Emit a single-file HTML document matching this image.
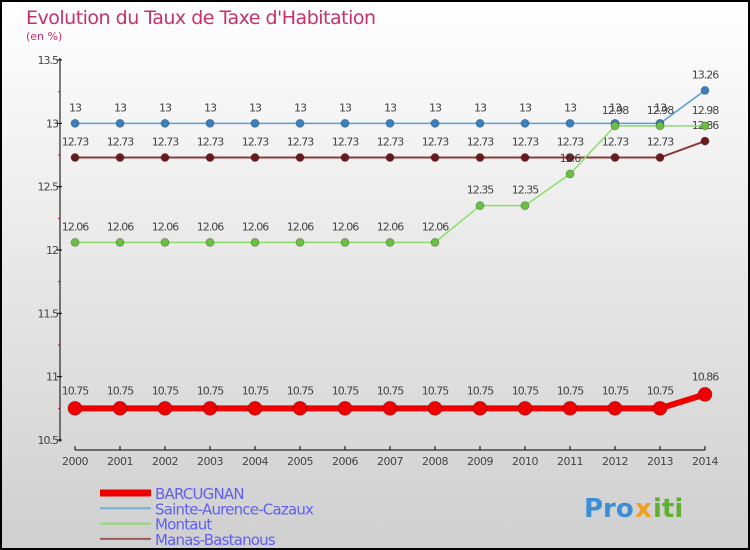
<!DOCTYPE html>
<html><head><meta charset="utf-8"><style>
body{margin:0;}
#c{width:750px;height:550px;position:relative;overflow:hidden;}
svg{display:block;font-family:"DejaVu Sans","Liberation Sans",sans-serif;}
</style></head><body>
<div id="c">
<svg id="s" width="750" height="550" xmlns="http://www.w3.org/2000/svg">
<defs><linearGradient id="bg" x1="0" y1="0" x2="0" y2="1"><stop offset="0" stop-color="#ffffff"/><stop offset="1" stop-color="#cfcfcf"/></linearGradient></defs>
<rect x="1" y="1" width="748" height="548" fill="url(#bg)" stroke="#000" stroke-width="2"/>
<text x="26" y="24" font-size="19" fill="#c8306a" style="letter-spacing:-0.5px">Evolution du Taux de Taxe d'Habitation</text>
<text x="26" y="40" font-size="11" fill="#c8306a">(en %)</text>
<g id="axes"></g><g id="series"></g><g id="legend"></g>
<g font-size="26" font-weight="bold">
<text x="584" y="517" fill="#3a8fd8">Pro</text><text x="635" y="517" fill="#f0a020">x</text><text x="653" y="517" fill="#60b030">iti</text>
</g>
</svg></div>
<script>
const years=[2000,2001,2002,2003,2004,2005,2006,2007,2008,2009,2010,2011,2012,2013,2014];
const yTicks=[10.5,11,11.5,12,12.5,13,13.5];
const barcugnan=[10.75,10.75,10.75,10.75,10.75,10.75,10.75,10.75,10.75,10.75,10.75,10.75,10.75,10.75,10.86];
const sainte=[13,13,13,13,13,13,13,13,13,13,13,13,13,13,13.26];
const montaut=[12.06,12.06,12.06,12.06,12.06,12.06,12.06,12.06,12.06,12.35,12.35,12.6,12.98,12.98,12.98];
const manas=[12.73,12.73,12.73,12.73,12.73,12.73,12.73,12.73,12.73,12.73,12.73,12.73,12.73,12.73,12.86];
const NS="http://www.w3.org/2000/svg";
const X=i=>75+i*45, Y=v=>440-(v-10.5)*380/3;
function mk(t,a,p){const e=document.createElementNS(NS,t);for(const k in a)e.setAttribute(k,a[k]);p.appendChild(e);return e;}
const ax=document.getElementById('axes');
let e=mk('line',{x1:60,y1:58,x2:60,y2:442,stroke:'#000','stroke-width':1},ax);

e=mk('line',{x1:75,y1:450,x2:705,y2:450,stroke:'#000','stroke-width':1},ax);

yTicks.forEach(v=>{mk('line',{x1:57,y1:Y(v),x2:62,y2:Y(v),stroke:'#000'},ax);
 const t=mk('text',{x:58,y:Y(v)+4,'font-size':11,fill:'#444','text-anchor':'end','letter-spacing':'-1'},ax);t.textContent=v;
 
 if(v<13.5){mk('line',{x1:58,y1:Y(v+0.25),x2:60,y2:Y(v+0.25),stroke:'#e00'},ax);}});
years.forEach((y,i)=>{mk('line',{x1:X(i),y1:446,x2:X(i),y2:450,stroke:'#000'},ax);
 const t=mk('text',{x:X(i),y:465,'font-size':11,fill:'#444','text-anchor':'middle','letter-spacing':'-0.5'},ax);t.textContent=y;
 });
const sg=document.getElementById('series');
function fmt(v){return String(v).replace('.','.');}
function draw(data,color,w,r,name,dotc,dy){
 const g=mk('g',{},sg);
 mk('polyline',{points:data.map((v,i)=>X(i)+','+Y(v)).join(' '),fill:'none',stroke:color,'stroke-width':w,'stroke-linejoin':'round'},g);
 data.forEach((v,i)=>{const c=mk('circle',{cx:X(i),cy:Y(v),r:r,fill:dotc,stroke:'rgba(0,0,0,0.25)','stroke-width':1},g);
  
  const t=mk('text',{x:X(i),y:Y(v)-dy,'font-size':11,fill:'#444','text-anchor':'middle','letter-spacing':'-1'},g);t.textContent=fmt(v);
  });
}
draw(manas,'#8a3a3a',2,4,'series-manas-bastanous','#6a1a1a',12);
draw(sainte,'#5a9fd4',1.5,4,'series-sainte-aurence-cazaux','#3a80c0',12);
draw(montaut,'#8ddc6a',1.5,4,'series-montaut','#6ac040',12);
draw(barcugnan,'#ee0000',6,7,'series-barcugnan','#ee0000',14);
const lg=document.getElementById('legend');
[['BARCUGNAN','#ee0000',7],['Sainte-Aurence-Cazaux','#7aaed4',2],['Montaut','#8ddc6a',2],['Manas-Bastanous','#9a5a5a',2]].forEach((d,i)=>{
 const y=493+i*15.3;const g=mk('g',{},lg);
 mk('line',{x1:100,y1:y,x2:151,y2:y,stroke:d[1],'stroke-width':d[2]},g);
 const t=mk('text',{x:155,y:y+6,'font-size':15,fill:'#6060f0','letter-spacing':'-0.8'},g);t.textContent=d[0];});
</script></body></html>
